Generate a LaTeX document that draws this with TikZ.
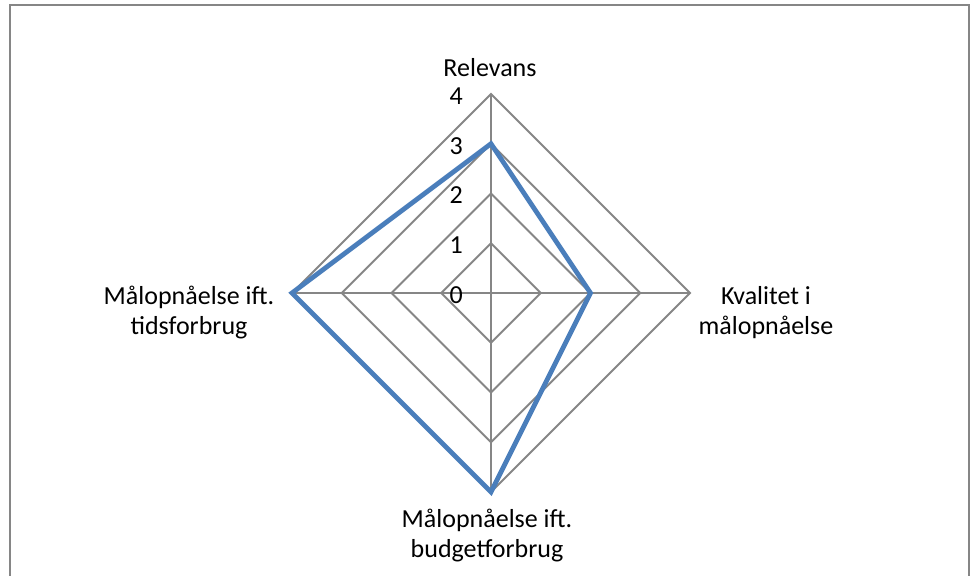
\documentclass[tikz,border=0pt]{standalone}
\usepackage{fontspec}
\setmainfont{Carlito}

\definecolor{gridgray}{RGB}{134,134,134}
\definecolor{seriesblue}{RGB}{74,126,187}

\tikzset{
    chartfont/.style={font=\fontsize{13}{15}\selectfont},
    axislabel/.style={chartfont, align=center, inner sep=0pt},
    ticklabel/.style={chartfont, anchor=east, inner sep=0pt},
    web/.style={gridgray, line width=1pt},
    series/.style={seriesblue, line width=2.4pt, line join=miter}
}

\begin{document}
\begin{tikzpicture}[x=0.5pt,y=-0.5pt]

\useasboundingbox (0,0) rectangle (971,576);
\draw [gridgray, line width=0.9pt] (10,576) -- (10,5) -- (969,5) -- (969,576);

\begin{scope}[shift={(491,293)}, x=24.875pt, y=24.875pt]

% rings and spokes
\foreach \r in {1,2,3,4}
    \draw [web] (0,\r) -- (\r,0) -- (0,-\r) -- (-\r,0) -- cycle;
\foreach \a in {90,0,-90,180}
    \draw [web] (0,0) -- (\a:4);

\foreach \v in {0,1,2,3,4}
    \node [ticklabel] (tick\v) at (-0.56,\v-0.04) {\v};

% data
\draw [series] (90:3) -- (0:2) -- (-90:4) -- (180:4) -- cycle;

\end{scope}

\node [axislabel] (relevans) at (490,67.5) {Relevans};
\node [axislabel] (kvalitet) at (766,313) {Kvalitet i\\målopnåelse};
\node [axislabel] (budget) at (487,536) {Målopnåelse ift.\\budgetforbrug};
\node [axislabel] (tid) at (189,313) {Målopnåelse ift.\\tidsforbrug};

\end{tikzpicture}
\end{document}
